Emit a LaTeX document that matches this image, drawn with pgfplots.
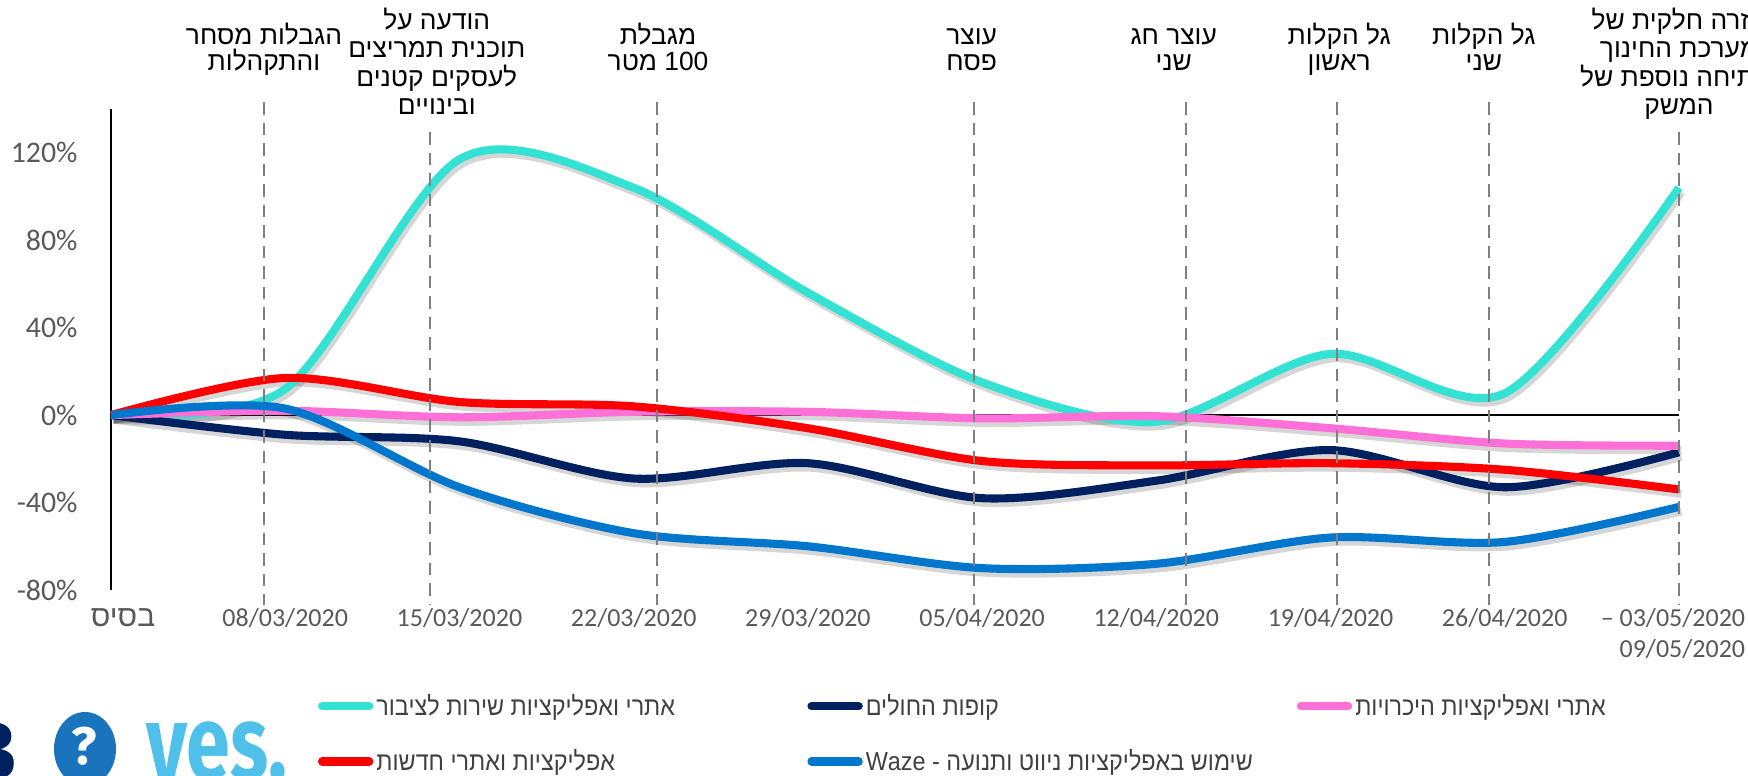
\documentclass[border=0pt]{standalone}
\usepackage{pgfplots}
\pgfplotsset{compat=1.18}
\usepackage{pgfplotstable}
\usepackage{fontspec}
\setmainfont{Carlito}
\newfontfamily\hebfont[Script=Hebrew]{Liberation Sans}
\newfontfamily\heblegfont[Script=Hebrew, FakeStretch=0.9]{Liberation Sans}
\newfontfamily\logofont{Fira Sans}
\TeXXeTstate=1

\definecolor{cteal}{HTML}{33E2D3}
\definecolor{cnavy}{HTML}{002060}
\definecolor{cpink}{HTML}{FF6FD8}
\definecolor{cred}{HTML}{FF0000}
\definecolor{cblue}{HTML}{0077CC}
\definecolor{tickgray}{HTML}{595959}
\definecolor{leggray}{HTML}{404040}
\definecolor{dashgray}{HTML}{7F7F7F}
\definecolor{yesblue}{HTML}{4EC0EA}
\definecolor{eggblue}{HTML}{1A73BD}

\pgfplotstableread{
x teal navy pink red blue
0 0 0 0 0 0
1 12 -9 2 17 3
2 117 -12 -1 6 -33
3 104 -29 1.5 4 -54
4 56 -22 1.5 -6 -60
5 15 -38 -1.5 -21 -70
6 -3 -30 -0.5 -23 -68
7 28 -16 -6 -22 -56
8 10 -33 -13 -25 -58
9 104 -17 -14 -34 -42
}\datatable

\newcommand{\annfont}{\hebfont\fontsize{7.5}{8}\selectfont}
\newcommand{\ann}[3]{\node[anchor=base, inner sep=0pt, font=\annfont] at (axis cs:#1,#2) {#3};}
\newcommand{\annvline}[2]{\draw[dashgray, line width=0.7pt, dash pattern=on 1.25mm off 0.8mm] (axis cs:#1,#2) -- (axis cs:#1,-87);}
\newcommand{\legtext}[1]{\makebox[42.8mm][l]{\rule[-0.9mm]{0pt}{3.2mm}#1}}

\begin{document}
\begin{tikzpicture}
\useasboundingbox (0,0) rectangle (174.8mm,77.5mm);
\clip (0,0) rectangle (174.8mm,77.5mm);
\begin{axis}[
  at={(11.1mm,18.5mm)}, anchor=south west,
  scale only axis, width=156.8mm, height=48.1mm,
  xmin=0, xmax=9, ymin=-80, ymax=140,
  clip=false,
  separate axis lines,
  axis y line*=left, axis x line*=bottom,
  axis line style={-},
  x axis line style={draw=none},
  y axis line style={black, line width=0.6pt},
  xtick={0,...,9},
  xticklabels={{\hspace*{2.4mm}\fontsize{8.5}{10}\selectfont\hebfont\beginR בסיס\endR}, 08/03/2020, 15/03/2020, 22/03/2020, 29/03/2020, 05/04/2020, 12/04/2020, 19/04/2020, 26/04/2020, {-- 03/05/2020\hspace*{1.2mm}\\09/05/2020\hspace*{1.2mm}}},
  ytick={-80,-40,0,40,80,120},
  yticklabels={-80\%,-40\%,0\%,40\%,80\%,120\%},
  major tick length=0pt,
  tick style={draw=none},
  yticklabel style={font=\fontsize{8.5}{10}\selectfont, text=tickgray, xshift=-2.1mm},
  xticklabel style={font=\fontsize{7.4}{8.8}\selectfont, text=tickgray, align=right, yshift=-0.6mm},
  legend columns=3,
  legend cell align=left,
  legend style={at={(axis description cs:0.132,-0.206)}, anchor=north west,
    draw=none, fill=none, inner sep=0pt, outer sep=0pt,
    font=\heblegfont\fontsize{7.4}{9}\selectfont, text=leggray,
    /tikz/every even column/.append style={column sep=0pt},
    row sep=2.1mm,
    nodes={inner sep=0.3mm}},
  legend image code/.code={\draw[#1, line width=2.4pt, line cap=round, opacity=1] (0.3mm,0mm) -- (5.0mm,0mm);},
]
\addplot[black, line width=0.6pt, forget plot] coordinates {(0,0) (9,0)};
\pgfplotsinvokeforeach{teal,navy,pink,red,blue}{
  \addplot[forget plot, smooth, line width=2.3pt, black, opacity=0.16, xshift=0.25mm, yshift=-0.45mm] table[x=x,y=#1]{\datatable};
}
\addplot[cteal, smooth, line width=2.3pt] table[x=x,y=teal]{\datatable};
\addlegendentry{\legtext{\beginR אתרי ואפליקציות שירות לציבור\endR}}
\addplot[cnavy, smooth, line width=2.3pt] table[x=x,y=navy]{\datatable};
\addlegendentry{\legtext{\beginR קופות החולים\endR}}
\addplot[cpink, smooth, line width=2.3pt] table[x=x,y=pink]{\datatable};
\addlegendentry{\legtext{\beginR אתרי ואפליקציות היכרויות\endR}}
\addplot[cred, smooth, line width=2.3pt] table[x=x,y=red]{\datatable};
\addlegendentry{\legtext{\beginR אפליקציות ואתרי חדשות\endR}}
\addplot[cblue, smooth, line width=2.3pt] table[x=x,y=blue]{\datatable};
\addlegendentry{\legtext{\beginR שימוש באפליקציות ניווט ותנועה - \beginL Waze\endL\endR}}

\annvline{0.878}{143}
\annvline{1.831}{129.4}
\annvline{3.134}{143}
\annvline{4.953}{143}
\annvline{6.170}{143}
\annvline{7.037}{143}
\annvline{7.910}{143}
\annvline{9.0}{129.4}

\ann{0.878}{169.6}{\beginR הגבלות מסחר\endR}
\ann{0.878}{157.7}{\beginR והתקהלות\endR}
\ann{1.87}{176.5}{\beginR הודעה על\endR}
\ann{1.87}{163.7}{\beginR תוכנית תמריצים\endR}
\ann{1.87}{150.4}{\beginR לעסקים קטנים\endR}
\ann{1.87}{137.6}{\beginR ובינויים\endR}
\ann{3.14}{169.6}{\beginR מגבלת\endR}
\ann{3.14}{157.7}{\beginR \beginL 100\endL{} מטר\endR}
\ann{4.94}{169.6}{\beginR עוצר\endR}
\ann{4.94}{157.7}{\beginR פסח\endR}
\ann{6.10}{169.6}{\beginR עוצר חג\endR}
\ann{6.10}{157.7}{\beginR שני\endR}
\ann{7.05}{169.6}{\beginR גל הקלות\endR}
\ann{7.05}{157.7}{\beginR ראשון\endR}
\ann{7.88}{169.6}{\beginR גל הקלות\endR}
\ann{7.88}{157.7}{\beginR שני\endR}
\ann{9.0}{176.5}{\beginR חזרה חלקית של\endR}
\ann{9.0}{163.7}{\beginR מערכת החינוך\endR}
\ann{9.0}{150.4}{\beginR ופתיחה נוספת של\endR}
\ann{9.0}{137.6}{\beginR המשק\endR}
\end{axis}
% logos
\node[anchor=east, inner sep=0pt, text=cnavy, font=\logofont\bfseries\fontsize{24}{24}\selectfont] at (1.7mm,2.4mm) {B};
\fill[eggblue] (8.5mm,2.6mm) ellipse [x radius=3.1mm, y radius=3.7mm];
\node[inner sep=0pt, text=white, font=\logofont\bfseries\fontsize{15}{15}\selectfont] at (8.4mm,2.9mm) {?};
\node[anchor=north west, inner sep=0pt, text=yesblue, font=\logofont\bfseries\fontsize{30}{30}\selectfont, xscale=0.75] at (14.6mm,5.4mm) {yes.};
\end{tikzpicture}
\end{document}
